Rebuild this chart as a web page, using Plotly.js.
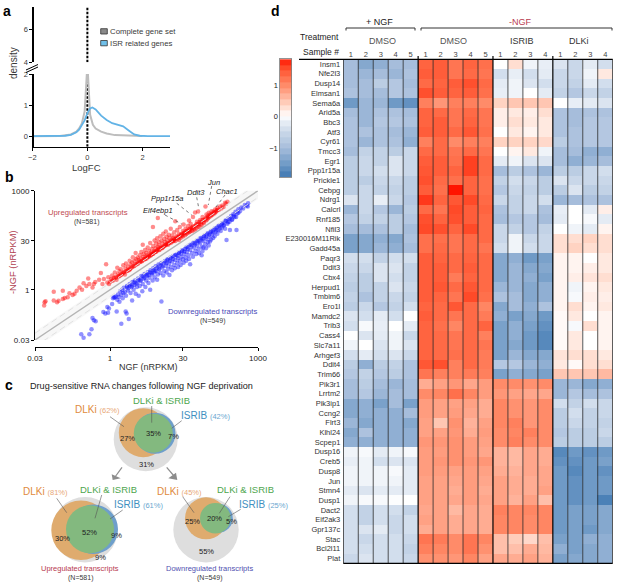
<!DOCTYPE html>
<html>
<head>
<meta charset="utf-8">
<script src="https://cdn.plot.ly/plotly-3.0.1.min.js"></script>
<style>html,body{margin:0;padding:0;background:#fff}</style>
</head>
<body>
<div id="chart" style="width:617px;height:584px"></div>
<script>
// panel a: density curves
const ticksA = [0, 1, 2, 4, 6];
const fcComplete = [-2, -1, -0.6, -0.4, -0.3, -0.2, -0.1, -0.05, -0.02, 0, 0.02, 0.05, 0.1, 0.2, 0.3, 0.5, 0.7, 1, 1.5, 2];
const densComplete = [0.01, 0.02, 0.07, 0.16, 0.26, 0.42, 0.8, 1.4, 2, 2.3, 2, 1.3, 0.7, 0.38, 0.26, 0.16, 0.1, 0.05, 0.03, 0.02];
const fcIsr = [-2, -1, -0.8, -0.6, -0.4, -0.3, -0.2, -0.1, 0, 0.05, 0.1, 0.18, 0.3, 0.5, 0.7, 0.9, 1.1, 1.3, 1.5, 1.7, 1.9, 2.2, 3];
const densIsr = [0.02, 0.02, 0.03, 0.06, 0.14, 0.22, 0.35, 0.52, 0.75, 0.85, 0.9, 0.93, 0.87, 0.67, 0.53, 0.43, 0.39, 0.33, 0.2, 0.07, 0.03, 0.02, 0.02];

// panel b: transcripts, nRPKM
const upNgf = [0.047,0.046,0.049,0.072,0.072,0.084,0.09,0.11,0.11,0.12,0.138,0.15,0.174,0.19,0.21,0.24,0.27,0.29,0.33,0.36,0.38,0.44,0.47,0.5,0.6,0.65,0.7,0.75,0.83,0.88,0.92,0.95,
  1,1.05,1.1,1.15,1.2,1.25,1.3,1.35,1.4,1.45,1.5,1.55,1.6,1.65,1.7,1.8,1.85,1.9,2,2.05,2.1,2.2,2.3,2.4,
  2.5,2.55,2.6,2.7,2.8,2.9,3,3.1,3.2,3.3,3.4,3.5,3.6,3.7,3.8,4,4.1,4.2,4.3,4.5,4.6,4.7,4.8,5,5.1,5.2,5.4,5.5,
  5.7,5.8,6,6.2,6.4,6.5,6.7,6.8,7,7.2,7.4,7.5,7.6,7.8,8,8.2,8.4,8.6,8.8,9,9.3,9.2,9.5,9.7,10,
  10,10.5,10.7,11,11.3,11.5,12,12,12.5,13,13,13.5,14,14,14.5,15,15.5,16,16,17,17,17.5,18,18.5,19,19.5,20,
  20,21,21,22,23,23,24,25,25,26,26,27,28,29,30,30,31,32,33,34,35,36,37,38,39,40,40,
  41,42,43,45,46,47,48,50,52,53,55,56,58,60,61,63,65,67,70,72,75,78,80,84,86,88,90,93,95,98,100,
  104,108,112,115,120,125,130,135,140,145,150,160,170,180,190,200,215,240,225,
  1.1,1.3,1.5,1.7,1.9,2.1,2.3,2.5,2.8,3.1,3.4,3.7,4,4.4,4.8,5.2,5.6,6,6.5,7,7.5,8,8.6,9.2,10,10.8,11.6,12.5,13.5,14.5,15.5,17,18.5,20,21.5,23,25,27,29,31,33,36,39,42,45,48,52,56,60,65,70,75,80,88,95,105,115,125,135,150];
const upMinus = [0.42,0.33,0.45,0.87,0.47,0.42,0.46,0.93,0.52,0.56,0.59,0.78,0.69,0.75,0.93,1.17,1,1.58,1.3,2.2,1.48,1.17,1.5,1.7,2,3.2,1.5,2.1,5.9,1.66,2.4,1.5,
  1.7,2.1,2.7,1.9,2.3,3.3,2.4,2,4.6,2.9,2.5,3.6,2.7,4.2,2.9,3.2,5.5,3.4,2.9,4.4,6.2,3.7,5,3.9,
  7.5,4.3,5.8,4.6,6.7,9.6,5.1,7.4,5.7,13,8.4,6,9.5,6.6,7.9,11,6.9,8.7,14,7.5,23,10,12,8.4,16,9.5,13,8.9,
  11,19,9.8,15,11,26,13,11,17,12,79,21,13,15,31,14,18,25,15,36,148,20,17,28,16,
  22,42,19,31,18,25,20,50,35,22,28,58,24,40,31,23,46,27,36,70,26,32,44,29,37,30,55,
  33,118,30,42,34,65,38,32,50,80,40,37,47,43,60,41,95,52,45,70,49,60,52,85,58,55,125,
  68,58,100,63,78,60,160,72,66,218,88,72,115,82,235,95,80,130,100,92,160,112,105,135,331,125,190,135,170,150,215,
  160,195,175,240,190,230,205,270,230,245,300,260,330,290,355,320,430,465,400,
  1.9,2.3,2.6,2.9,3.3,3.6,3.9,4.1,4.9,5.2,5.8,6.2,7,7.3,8.2,8.6,9.6,10.2,10.8,12,12.4,13.8,14.2,15.7,16.5,18.4,19,21,22.5,25,25.5,29,30,34,35.5,39,41,46,47.5,53,54,61,64,72,74,82,85,96,98,112,115,129,131,150,156,180,188,215,220,258];
const downNgf = [0.24,0.26,0.29,0.38,0.42,0.51,0.44,0.47,0.73,0.8,0.91,0.88,0.95,1.1,1.2,1.15,1.25,1.36,1.3,1.4,1.45,1.5,1.69,1.55,1.6,1.7,1.75,1.8,1.85,1.9,2,2.07,2.16,2.1,2.2,2.3,2.4,2.35,2.5,2.6,2.7,2.8,2.85,3,3.1,3.2,3.3,3.5,3.6,3.8,3.7,4,4.1,4.3,4.5,4.6,4.8,5,5.2,5.4,5.6,5.8,6,6.3,6.5,6.6,7,7.3,7.5,7.8,8,8.4,8.7,9,9.3,9.6,10,
  10.5,11,11,11.5,12,12.5,13,13.5,14,14.5,15,15.5,16,16.6,17,18,18,19,20,20.5,21,22,23,24,24,25,26,27,28,29,30,31,
  32,33,34,35,36,37,39,40,42,42,44,46,48,50,52,54,56,58,60,62,64,67,70,72,72,75,78,78,80,85,88,90,92,96,100,103,106,108,
  112,118,123,125,132,138,145,150,158,165,175,185,190,200,215,220,230,240,250,265,270,285,300,315,335,350,366,380,400,430,460,500,540,590,630,620,
  2.2,2.5,2.8,3.1,3.4,3.8,4.2,4.6,5,5.5,6,6.5,7,7.6,8.2,9,9.8,10.6,11.6,12.6,13.8,15,16.2,17.6,19,21,23,25,27,29,32,35,38,41,45,49,53,58,63,68,74,80,87,95,103,112,122,133,145,158,172,188,205,224,245,268,295,325,360,400];
const downMinus = [0.026,0.045,0.035,0.045,0.063,0.11,0.14,0.12,0.21,0.19,0.2,0.3,0.27,0.37,0.59,0.55,0.58,0.22,0.62,0.5,0.72,0.6,0.094,0.43,0.9,0.7,1,0.55,0.8,1.15,0.85,0.22,0.19,0.66,1.3,0.95,0.13,1.1,1.5,0.8,1.2,0.47,1.7,1,1.4,1.9,0.75,1.2,1.6,0.66,2.2,1.3,1.9,2.6,0.9,1.5,2.2,3,1.2,1.9,2.6,3.4,1.6,2.3,1,3.9,2.9,1.9,4.5,3.3,2.4,5.1,3.7,2,2.9,5.8,4.2,
  3.2,0.44,6.5,4.8,2.7,3.7,7.4,5.3,3.3,8.3,4.3,6.2,2.8,9.3,5,3.9,7.2,10.5,5.6,4.5,8,11.5,6.5,4.9,9,13,7.5,5.6,10,15,8.4,6.6,
  12,17,9.5,7.5,14,20,11,8.5,5.9,16,23,13,10,19,26,15,12,22,30,17,13,26,35,11,20,15,19,30,42,24,18,35,48,28,22,40,29,55,
  33,48,37,65,42,56,75,50,65,88,60,75,105,88,70,125,32,100,145,115,65,170,135,195,160,230,65,205,275,240,310,290,370,350,417,330,
  1.2,1.35,1.3,1.65,1.55,2,1.9,2.5,2.3,2.9,2.8,3.4,3.2,4,3.7,4.8,4.4,5.7,5.2,6.8,6.3,8.2,7.4,9.6,8.6,11.3,10.5,13.5,12.2,15.8,14.5,19,17.2,22.5,20.4,26.5,24,31,28.5,37,33,43,39,51,46,60,55,71,65,85,78,100,92,120,110,143,132,175,160,215];
const ticksB = [0.03, 1, 30, 1000];

// panel d: heatmap, one row per gene
const genes = ["Insm1","Nfe2l3","Dusp14","Elmsan1","Sema6a","Arid5a","Bbc3","Atf3","Cyr61","Tmcc3","Egr1","Ppp1r15a","Prickle1","Cebpg","Ndrg1","Calcrl","Rnf185","Nfil3","E230016M11Rik","Gadd45a","Paqr3","Ddit3","Cbx4","Herpud1","Tmbim6","Ero1l","Mamdc2","Trib3","Cass4","Slc7a11","Arhgef3","Ddit4","Trim66","Pik3r1","Lrrtm2","Pik3ip1","Ccng2","Flrt3","Klhl24","Scpep1","Dusp16","Creb5","Dusp8","Jun","Stmn4","Dusp1","Dact2","Eif2ak3","Gpr137c","Stac","Bcl2l11","Plat"];
const samples = [1,2,3,4,5,1,2,3,4,5,1,2,3,4,1,2,3,4];
const groupEnds = [4.5, 9.5, 13.5];
const expression = [
  [-1,-1.3,-1.2,-1,-1, 1.35,1.4,1.2,1.35,1.25, 0,0.3,-0.1,-0.15, -0.3,-0.5,-0.2,-0.4],
  [-1,-1.1,-1,-1.1,-0.9, 1.4,1.4,1.2,1.3,1.2, -0.4,-0.15,-0.4,-0.2, -0.5,-0.5,-0.1,0.2],
  [-1,-1,-0.7,-0.8,-1, 1.3,1.35,1.4,1.5,1.3, -0.2,-0.1,-0.3,-0.4, -0.5,-0.6,-0.2,-0.4],
  [-0.9,-1,-1,-0.8,-0.9, 1.5,1.4,1.35,1.4,1.25, -0.15,-0.1,0,-0.2, -0.6,-0.8,-0.5,-0.6],
  [-1.5,-1.1,-1.1,-1.5,-1.6, 1.1,0.9,1.1,1.1,1, 0.4,0.5,0.5,0.5, 0,-0.15,-0.2,-0.3],
  [-1,-1.1,-0.9,-0.9,-1, 1.35,1.3,1.2,1.3,1.2, 0.15,0.2,0.15,0.3, -0.9,-1,-0.9,-0.9],
  [-0.9,-1.1,-0.8,-0.8,-0.9, 1.35,1.4,1.2,1.35,1.2, 0.15,0.3,0.2,0.2, -0.9,-1,-0.8,-0.8],
  [-0.9,-0.9,-0.9,-1,-1.1, 1.4,1.4,1.3,1.45,1.25, 0,0.2,0.1,0.2, -0.9,-0.9,-0.8,-0.8],
  [-0.9,-1.1,-0.9,-0.9,-1.2, 1.1,1.3,1,1.1,1.1, 0.4,0.4,0.4,0.35, -0.7,-0.9,-0.8,-0.8],
  [-1,-0.6,-0.6,-0.7,-0.5, 1.3,1.3,1.2,1.3,1.2, 0,0.1,0.2,-0.1, -1,-1,-1.2,-1.2],
  [-0.7,-0.5,-0.6,-0.3,-0.5, 1.4,1.4,1.25,1.6,1.3, -0.2,-0.1,-0.3,-0.3, -1,-1.2,-1.1,-1],
  [-0.7,-0.5,-0.4,-0.3,-0.5, 1.45,1.4,1.35,1.6,1.3, -1,-0.7,-0.9,-1.1, -0.7,-0.7,-0.5,-0.4],
  [-0.7,-0.7,-0.5,-0.5,-0.7, 1.5,1.3,1.25,1.35,1.25, -0.6,-0.4,-0.5,-0.7, -0.3,-0.5,-0.5,-0.5],
  [-0.7,-0.5,-0.6,-0.6,-0.7, 1.4,1.25,1.85,1.35,1.25, -0.8,-0.5,-0.6,-0.7, -0.7,-0.3,-0.7,-0.6],
  [-0.3,-0.5,-0.15,-0.5,-0.8, 1.65,1.35,1.45,1.55,1.3, -0.5,-0.6,-0.5,-0.4, -1.1,-1,-0.9,-0.9],
  [-1.1,-0.5,-0.8,-1.1,-0.7, 1.3,1.2,1.55,1.4,1.35, -0.9,-0.6,-0.5,-0.9, -0.15,0,-0.2,0.15],
  [-0.8,-0.6,-0.6,-0.7,-0.8, 1.5,1.35,1.5,1.4,1.3, -1,-0.8,-0.8,-1, -0.2,0,-0.05,-0.2],
  [-1,-1,-0.9,-0.7,-1, 1.55,1.5,1.35,1.55,1.3, -0.5,-0.6,-0.8,-0.6, 0,-0.1,-0.2,0.1],
  [-1.4,-1.3,-1.2,-1.3,-0.9, 1.25,1.25,1.2,1.3,1.3, -0.5,-0.1,-0.5,-0.5, 0.3,0.3,0.4,0.3],
  [-1.4,-1.3,-1.1,-1.2,-1, 1.25,1.3,1.2,1.3,1.2, -0.4,-0.1,-0.4,-0.5, 0.3,0.4,0.3,0.3],
  [-0.4,-0.4,-0.6,-0.4,-0.4, 1.4,1.35,1.3,1.35,1.3, -1.3,-1.2,-1.5,-1.4, 0.1,0.1,0,0.2],
  [-0.5,-0.5,-0.3,-0.3,-0.6, 1.4,1.4,1.3,1.4,1.3, -1.3,-1.1,-1.3,-1.3, 0.1,0.1,0.15,0.2],
  [-0.6,-0.7,-0.3,-0.4,-0.6, 1.4,1.4,1.15,1.35,1.3, -1.3,-1.1,-1.2,-1.4, 0.1,0.15,0.25,0.3],
  [-0.7,-0.7,-0.6,-0.3,-0.5, 1.4,1.45,1.3,1.45,1.3, -1.1,-1.1,-1.3,-1.2, 0.1,-0.1,0.1,0.2],
  [-0.6,-0.9,-0.6,-0.5,-0.6, 1.4,1.35,1.2,1.55,1.25, -0.9,-1,-1.3,-1.2, 0.1,-0.05,0.15,0.15],
  [-0.7,-0.5,-0.8,-0.6,-0.4, 1.35,1.3,1.45,1.3,1.05, -1.3,-1,-1.2,-0.9, 0.1,0.3,0.1,0.2],
  [-0.3,-0.4,-0.2,-0.4,0, 1.4,1.3,1.2,1.3,1.15, -1.2,-1.4,-1.3,-1.5, 0.05,0.2,0,0.1],
  [-0.4,-0.05,-0.15,0,-0.2, 1.35,1.25,1.05,1.3,1.35, -1.4,-1.2,-1.4,-1.6, 0.05,-0.05,0.3,0.1],
  [0,-0.3,-0.2,-0.1,-0.5, 1.35,1.3,1.2,1.3,1.1, -1.4,-1.2,-1.5,-1.7, 0.05,0.2,0,0.1],
  [-0.1,0,-0.3,-0.1,-0.3, 1.35,1.3,1.2,1.3,1.2, -1.4,-1.3,-1.5,-1.7, 0.05,0.2,0,0.1],
  [-0.4,-0.2,-0.4,-0.3,-0.5, 1.35,1.3,1.25,1.3,1.15, -1.4,-1.1,-1.3,-1.3, 0.25,0.3,0.3,0.2],
  [-0.7,-1.2,-0.7,-0.6,-0.9, 1.45,1.5,1.1,1.3,1.15, -0.8,-0.8,-1.1,-1.2, 0.2,0.05,0.3,0.3],
  [-0.8,-0.6,-0.8,-0.7,-0.9, 1.2,1.1,1.1,1.15,1.1, -1.4,-1.2,-1.3,-1.4, 0.5,0.5,0.5,0.6],
  [-1,-0.7,-1,-1.1,-1, 0.7,0.8,0.9,0.75,0.85, 1,1,0.95,1, -1.1,-1.1,-1.3,-1.2],
  [-1,-0.8,-1.1,-1,-1, 1,1.05,1.25,1.05,0.85, 0.9,0.8,0.75,0.75, -1.1,-0.8,-1,-0.9],
  [-1.3,-1.2,-1.4,-1,-1.4, 0.85,0.8,0.8,0.8,0.7, 1.05,0.95,0.9,1, -0.4,-0.6,-0.4,-0.5],
  [-1.3,-1.2,-1.2,-1.2,-1, 0.85,0.8,0.85,0.75,0.7, 1.05,0.95,0.9,1, -0.7,-0.4,-0.6,-0.5],
  [-1.1,-1.3,-1.2,-1.2,-1.3, 0.8,0.5,0.95,0.65,0.8, 1.05,1.1,0.9,1, -0.7,-0.5,-0.6,-0.6],
  [-1.3,-0.9,-1.2,-1.2,-1.2, 0.8,0.8,0.9,0.7,0.85, 1,1.05,1.1,1, -0.8,-0.7,-0.7,-0.5],
  [-1.2,-1.2,-1.2,-1.2,-1.2, 0.9,0.9,0.95,0.85,0.8, 1,1.1,1,1, -0.7,-0.7,-0.7,-0.7],
  [-0.1,-0.05,-0.2,-0.1,-0.05, 0.85,0.85,0.95,0.85,0.75, 0.65,0.6,0.75,0.7, -1.7,-1.5,-1.6,-1.5],
  [-0.15,-0.1,-0.4,-0.3,-0.3, 0.85,0.9,0.95,0.9,0.9, 0.65,0.6,0.75,0.7, -1.6,-1.6,-1.5,-1.4],
  [-0.1,-0.1,-0.1,-0.05,-0.2, 0.85,0.85,0.8,0.85,0.8, 0.7,0.65,0.75,0.75, -1.5,-1.7,-1.5,-1.6],
  [-0.1,-0.1,-0.1,-0.1,-0.2, 0.8,0.8,0.75,0.85,0.75, 0.8,0.7,0.7,0.75, -1.5,-1.6,-1.5,-1.5],
  [-0.2,-0.3,-0.2,-0.2,-0.2, 0.8,0.8,0.7,0.85,0.7, 0.8,0.7,0.7,0.8, -1.5,-1.6,-1.5,-1.5],
  [-0.1,-0.05,-0.05,-0.02,0, 0.8,0.8,0.75,0.85,0.75, 0.8,0.65,0.8,0.55, -1.5,-1.6,-1.5,-1.8],
  [-0.4,-0.6,-0.4,-0.4,-0.6, 0.75,0.8,0.6,0.75,0.7, 1.1,1.05,1.05,1.05, -1.5,-1.4,-1.4,-1.3],
  [-0.4,-0.6,-0.4,-0.5,-0.4, 0.8,0.8,0.7,0.75,0.7, 1.05,1.05,1,1.05, -1.5,-1.4,-1.4,-1.3],
  [-0.4,-0.3,-0.2,-0.5,-0.4, 0.7,0.8,0.7,0.75,0.7, 1.05,1.05,1,1.05, -1.5,-1.4,-1.5,-1.3],
  [-0.4,-0.5,-0.4,-0.4,-0.5, 1.2,1.15,1,1.2,1.05, 0.55,0.45,0.35,0.55, -1.4,-1.4,-1.2,-1.2],
  [-0.4,-0.4,-0.4,-0.4,-0.6, 1.1,1.05,1,1.2,0.95, 0.55,0.55,0.7,0.6, -1.2,-1.4,-1.3,-1.2],
  [-0.5,-0.3,-0.4,-0.4,-0.5, 0.95,0.95,0.9,1.05,0.8, 0.75,0.7,0.8,0.65, -1.4,-1.3,-1.3,-1.2]
];
const barLevels = [-1.82,-1.64,-1.46,-1.28,-1.1,-0.92,-0.74,-0.56,-0.38,-0.2,-0.05,0.1,0.28,0.46,0.64,0.82,1,1.18,1.36,1.54,1.72];
const stopValues = [-1.9,-1.5,-1,-0.5,-0.15,0,0.15,0.4,0.7,1,1.3,1.55,1.85];
const stopColors = ["#3f78b2","#6f9ac6","#a6bddb","#c9d7e9","#e8eef6","#ffffff","#ffeee8","#ffd3c2","#ffac92","#ff8b69","#ff6a46","#ff4a28","#ff1400"];
const zMin = -1.9, zMax = 1.85;
const scale = stopValues.map((v, i) => [(v - zMin) / (zMax - zMin), stopColors[i]]);

const W = 617, H = 584;
const px = (x) => x / W;
const py = (y) => 1 - y / H;
const FONT = "Liberation Sans, Arial, sans-serif";
const DARK = "#3a3a3a";
const ORANGE = "#e08a3c", ORANGE2 = "#e8a878", GREEN = "#4ea64e", BLUE = "#3f8fc0", BLUE2 = "#6aa6cf";

const traces = [
  { x: [0, 0], y: [-0.32, 2], xaxis: "x", yaxis: "y", mode: "lines", line: { color: "#000", width: 2, dash: "2.5px,1.5px" }, hoverinfo: "skip" },
  { x: [0, 0], y: [4, 7.3], xaxis: "x", yaxis: "y2", mode: "lines", line: { color: "#000", width: 2, dash: "2.5px,1.5px" }, hoverinfo: "skip" },
  { x: fcComplete, y: densComplete, xaxis: "x", yaxis: "y", mode: "lines", line: { color: "#bdbdbd", width: 2 }, name: "Complete gene set" },
  { x: fcIsr, y: densIsr, xaxis: "x", yaxis: "y", mode: "lines", line: { color: "#62b3e6", width: 1.8 }, name: "ISR related genes" },

  { x: [0.03, 1000], y: [0.03, 1000], xaxis: "x2", yaxis: "y3", mode: "lines", line: { color: "rgba(228,228,228,0.3)", width: 14 }, hoverinfo: "skip" },
  { x: upNgf, y: upMinus, xaxis: "x2", yaxis: "y3", mode: "markers", cliponaxis: false, marker: { color: "rgba(255,0,0,0.45)", size: 4.5, line: { width: 0 } }, name: "Upregulated" },
  { x: downNgf, y: downMinus, xaxis: "x2", yaxis: "y3", mode: "markers", cliponaxis: false, marker: { color: "rgba(10,10,255,0.45)", size: 4.5, line: { width: 0 } }, name: "Downregulated" },
  { x: [0.03, 1000], y: [0.03, 1000], xaxis: "x2", yaxis: "y3", mode: "lines", line: { color: "#b4b4b4", width: 1.4 }, cliponaxis: false, hoverinfo: "skip" },
  { x: [0.03, 1000], y: [0.048, 1600], xaxis: "x2", yaxis: "y3", mode: "lines", line: { color: "#e2e2e2", width: 1, dash: "6px,4px" }, cliponaxis: false, hoverinfo: "skip" },
  { x: [0.03, 1000], y: [0.019, 625], xaxis: "x2", yaxis: "y3", mode: "lines", line: { color: "#e2e2e2", width: 1, dash: "6px,4px" }, cliponaxis: false, hoverinfo: "skip" },

  { type: "heatmap", z: expression, x: samples.map((s, i) => i), y: genes, xaxis: "x3", yaxis: "y4", colorscale: scale, zmin: zMin, zmax: zMax, showscale: false },
  { type: "heatmap", z: barLevels.map((v) => [v]), x: [0], y: barLevels, xaxis: "x4", yaxis: "y5", colorscale: scale, zmin: zMin, zmax: zMax, showscale: false }
];

function spine(extra) {
  return Object.assign({ showgrid: false, zeroline: false, showline: true, linecolor: "#000", linewidth: 1.3, ticks: "outside", ticklen: 3, tickwidth: 1, tickcolor: "#000", tickfont: { size: 7.5, color: DARK, family: FONT }, fixedrange: true }, extra);
}

const shapes = [];
function seg(x0, y0, x1, y1, color, width, dash) {
  shapes.push({ type: "line", xref: "paper", yref: "paper", x0: px(x0), y0: py(y0), x1: px(x1), y1: py(y1), line: { color: color, width: width, dash: dash || "solid" } });
}
function circ(cx, cy, r, fill) {
  shapes.push({ type: "circle", xref: "paper", yref: "paper", x0: px(cx - r), x1: px(cx + r), y0: py(cy + r), y1: py(cy - r), fillcolor: fill, line: { width: 0 } });
}
function tri(pts, fill) {
  const p = pts.map((q, i) => (i ? "L " : "M ") + px(q[0]) + " " + py(q[1])).join(" ") + " Z";
  shapes.push({ type: "path", xref: "paper", yref: "paper", path: p, fillcolor: fill, line: { width: 0 } });
}
function box(x0, y0, x1, y1, fill) {
  shapes.push({ type: "rect", xref: "paper", yref: "paper", x0: px(x0), x1: px(x1), y0: py(y1), y1: py(y0), fillcolor: fill, line: { color: "#333", width: 0.8 } });
}

// axis break on panel a
seg(26, 70, 38, 64.5, "#000", 1);
seg(26, 72.5, 38, 67, "#000", 1);
box(100.7, 28.7, 107.3, 34, "#8a8a8a");
box(100.7, 40.5, 107.3, 45.8, "#6fc0ea");

// gene call-outs on panel b
seg(165, 215, 181.7, 224, "#444", 0.7, "dot");
seg(176.7, 203.3, 191.7, 215, "#444", 0.7, "dot");
seg(196.7, 197.3, 199, 209.3, "#444", 0.7, "dot");
seg(211.7, 186, 208.3, 205, "#444", 0.7, "dot");
seg(225, 195, 215, 208.3, "#444", 0.7, "dot");

// venn diagrams
const VG = "#dedede", VO = "#dfab6e", VB = "#6e9fcb", VN = "#83b97f";
circ(145.7, 439.3, 32, VG); circ(143.3, 432.7, 24.5, VO); circ(155, 433.3, 20.5, VB); circ(153.3, 433.3, 19.5, VN);
circ(85, 529.7, 32.7, VG); circ(81, 530.3, 29.7, VO); circ(93.3, 529.3, 24.7, VB); circ(90, 529.3, 24, VN);
circ(206, 529.7, 32.7, VG); circ(206, 518.3, 21, VO); circ(218.3, 518.3, 14.5, VB); circ(215.3, 518.3, 15.3, VN);
[[110, 416.7, 124, 426.7], [151.7, 406, 151.7, 422.7], [181.7, 420.7, 171.7, 428.3],
 [56.7, 498.3, 66.7, 512.7], [101.7, 495, 95, 518.3], [122.7, 510, 110, 519],
 [182.7, 496.7, 194, 512.7], [230, 496.7, 219.3, 513.3], [240.7, 509.3, 228.3, 516.7]].forEach((l) => seg(l[0], l[1], l[2], l[3], "#555", 0.6));
seg(122, 467.3, 115, 477, "#8c8c8c", 1.2);
tri([[111.7, 474.3], [112.7, 480], [120.7, 478.3]], "#8c8c8c");
seg(166.7, 467.3, 174, 476, "#8c8c8c", 1.2);
tri([[168.3, 478.3], [177.3, 480], [176, 472.7]], "#8c8c8c");

// heatmap frame and separators
for (let c = 0; c <= 18; c++) {
  const edge = c === 0 || c === 18;
  const grp = groupEnds.includes(c - 0.5);
  shapes.push({ type: "line", xref: "x3", yref: "paper", x0: c - 0.5, x1: c - 0.5, y0: py(563.3), y1: py(grp ? 56 : 59.3), line: { color: edge || grp ? "#000" : "#2b2b2b", width: edge || grp ? 1.2 : 0.8 } });
}
seg(299, 59.3, 612.7, 59.3, "#000", 1.2);
seg(343.3, 563.3, 612.7, 563.3, "#000", 1.2);
// treatment brackets
shapes.push({ type: "path", xref: "paper", yref: "paper", path: `M ${px(346)} ${py(30.5)} L ${px(346)} ${py(28)} L ${px(415)} ${py(28)} L ${px(415)} ${py(30.5)}`, line: { color: "#333", width: 1 } });
shapes.push({ type: "path", xref: "paper", yref: "paper", path: `M ${px(421)} ${py(30.5)} L ${px(421)} ${py(28)} L ${px(612)} ${py(28)} L ${px(612)} ${py(30.5)}`, line: { color: "#333", width: 1 } });

const annotations = [];
function lab(x, y, text, size, color, extra) {
  annotations.push(Object.assign({ xref: "paper", yref: "paper", x: px(x), y: py(y), text: text, showarrow: false, xanchor: "center", yanchor: "middle", borderpad: 0, font: { size: size, color: color || DARK, family: FONT } }, extra));
}
const pct = (name, p, c1, c2) => `<span style="color:${c1};font-size:10px">${name}</span> <span style="color:${c2};font-size:7.5px">(${p}%)</span>`;

lab(7, 11, "<b>a</b>", 14, "#000");
lab(9, 177, "<b>b</b>", 14, "#000");
lab(9, 385, "<b>c</b>", 14, "#000");
lab(275, 11, "<b>d</b>", 14, "#000");

lab(13, 63, "density", 10, DARK, { textangle: -90 });
lab(87, 167, "LogFC", 9.5, DARK);
lab(109, 31.5, "Complete gene set", 7.8, DARK, { xanchor: "left" });
lab(109, 43.3, "ISR related genes", 7.8, DARK, { xanchor: "left" });

lab(13, 262, "-NGF (nRPKM)", 9.3, "#b04050", { textangle: -90 });
lab(148, 367, "NGF (nRPKM)", 9, "#333");
lab(88, 212, "Upregulated transcripts", 7.7, "#c04a50");
lab(87, 222, "(N=581)", 7, DARK);
lab(212, 311, "Downregulated transcripts", 7.7, "#4848b8");
lab(212, 321, "(N=549)", 7, DARK);
[[158, 211, "Eif4ebp1"], [168, 198, "Ppp1r15a"], [196, 193, "Ddit3"], [213, 182, "Jun"], [227, 191, "Chac1"]].forEach((g) => lab(g[0], g[1], `<i>${g[2]}</i>`, 7.5, "#222"));

lab(141.5, 386, "Drug-sensitive RNA changes following NGF deprivation", 9.1, "#222");
lab(97, 409.5, pct("DLKi", 62, ORANGE, ORANGE2), 10);
lab(161, 400, "DLKi &amp; ISRIB", 9.5, GREEN);
lab(205, 415, pct("ISRIB", 42, BLUE, BLUE2), 10);
lab(127, 438.3, "27%", 7.5, "#222");
lab(153.3, 433.3, "35%", 7.5, "#222");
lab(173.3, 436, "7%", 7.5, "#222");
lab(146.7, 464, "31%", 7.5, "#222");

lab(45.7, 491.7, pct("DLKi", 81, ORANGE, ORANGE2), 10);
lab(108.7, 489.3, "DLKi &amp; ISRIB", 9.5, GREEN);
lab(138.7, 504.3, pct("ISRIB", 61, BLUE, BLUE2), 10);
lab(62.3, 538.3, "30%", 7.5, "#222");
lab(89.3, 532.7, "52%", 7.5, "#222");
lab(116, 535.7, "9%", 7.5, "#222");
lab(100, 557.7, "9%", 7.5, "#222");
lab(80, 568.7, "Upregulated transcripts", 7.5, "#b83a50");
lab(80, 578, "(N=581)", 7, DARK);

lab(180, 491.7, pct("DLKi", 45, ORANGE, ORANGE2), 10);
lab(245, 489.3, "DLKi &amp; ISRIB", 9.5, GREEN);
lab(263, 504.3, pct("ISRIB", 25, BLUE, BLUE2), 10);
lab(192.7, 521.7, "25%", 7.5, "#222");
lab(214.3, 518.3, "20%", 7.5, "#222");
lab(231.7, 521.7, "5%", 7.5, "#222");
lab(206, 551, "55%", 7.5, "#222");
lab(209.3, 568.7, "Downregulated transcripts", 7.5, "#5050b0");
lab(209.3, 578, "(N=549)", 7, DARK);

lab(379, 21.7, "+ NGF", 9, "#222");
lab(520, 21.7, "-NGF", 9, "#b83a50");
lab(340, 37.5, "Treatment", 8.5, "#222", { xanchor: "right" });
lab(340, 52, "Sample #", 8.5, "#222", { xanchor: "right" });
lab(382, 40.7, "DMSO", 9, "#555");
lab(453, 40.7, "DMSO", 9, "#555");
lab(522, 40.7, "ISRIB", 9, "#333");
lab(579, 40.7, "DLKi", 9, "#333");

const layout = {
  width: W, height: H, margin: { l: 0, r: 0, t: 0, b: 0 }, paper_bgcolor: "#fff", plot_bgcolor: "rgba(0,0,0,0)",
  showlegend: false, font: { family: FONT, color: DARK }, shapes: shapes, annotations: annotations,

  xaxis: spine({ domain: [px(32.3), px(170)], range: [-2, 3], anchor: "free", position: py(146.7), tickvals: [-2, 0, 2] }),
  yaxis: spine({ domain: [py(146.7), py(74)], range: [-0.32, 2], anchor: "free", position: px(32.3), tickvals: ticksA.slice(0, 3) }),
  yaxis2: spine({ domain: [py(62.3), py(6.7)], range: [4, 7.37], anchor: "free", position: px(32.3), tickvals: ticksA.slice(3) }),

  xaxis2: spine({ type: "log", domain: [px(35), px(258)], range: [Math.log10(0.03), 3], anchor: "free", position: py(347), tickvals: ticksB, ticktext: ticksB.map(String), tickfont: { size: 8, color: "#222" } }),
  yaxis3: spine({ type: "log", domain: [py(340), py(190.7)], range: [Math.log10(0.03), 3], anchor: "free", position: px(34), tickvals: ticksB, ticktext: ticksB.map(String), tickfont: { size: 8, color: "#222" } }),

  xaxis3: { domain: [px(343.3), px(612.7)], range: [-0.5, 17.5], anchor: "y4", side: "top", tickmode: "array", tickvals: samples.map((s, i) => i), ticktext: samples.map(String), ticks: "", showgrid: false, zeroline: false, tickfont: { size: 7.5, color: "#444" }, fixedrange: true },
  yaxis4: { domain: [py(563.3), py(59.3)], anchor: "x3", autorange: "reversed", tickmode: "array", tickvals: genes, ticktext: genes, ticks: "", ticklabelstandoff: 2, showgrid: false, zeroline: false, tickfont: { size: 7.5, color: "#333" }, fixedrange: true },

  xaxis4: { domain: [px(280), px(291.5)], anchor: "y5", showticklabels: false, ticks: "", showgrid: false, zeroline: false, fixedrange: true, showline: true, mirror: true, linecolor: "#666", linewidth: 0.7 },
  yaxis5: { domain: [py(177), py(59)], anchor: "x4", range: [-1.9, 1.82], tickvals: [-1, 0, 1], ticks: "", showgrid: false, zeroline: false, tickfont: { size: 7.5, color: "#222" }, fixedrange: true, showline: true, mirror: true, linecolor: "#666", linewidth: 0.7 }
};

Plotly.newPlot("chart", traces, layout, { displayModeBar: false, staticPlot: true });
</script>
</body>
</html>
